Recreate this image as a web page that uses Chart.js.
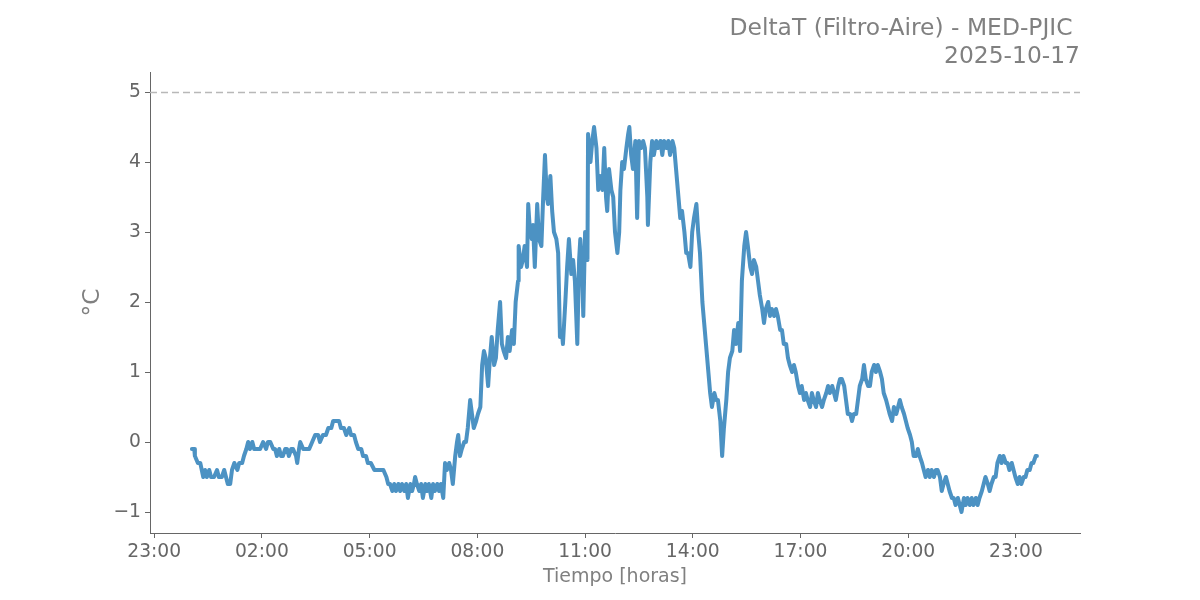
<!DOCTYPE html>
<html><head><meta charset="utf-8">
<script src="https://cdn.jsdelivr.net/npm/chart.js@4.4.1/dist/chart.umd.min.js"></script>
<style>html,body{margin:0;padding:0;background:#fff}#wrap{width:1200px;height:600px}</style>
</head><body><div id="wrap"><canvas id="c" width="1200" height="600"></canvas></div>
<script>
const chartTitle = ["DeltaT (Filtro-Aire) - MED-PJIC ", "2025-10-17"];
const xAxisTitle = "Tiempo [horas]";
const yAxisTitle = "°C";
const threshold = 5;
const xTickHours = [-1, 2, 5, 8, 11, 14, 17, 20, 23];
const yTickValues = [-1, 0, 1, 2, 3, 4, 5];

const times = [
"00:03","00:07","00:08","00:13","00:17","00:22","00:25","00:28","00:32","00:35","00:40","00:45","00:48","00:53","00:57",
"01:00","01:03","01:07","01:10","01:14","01:19","01:22","01:27","01:30","01:34","01:37","01:40","01:44","01:47","01:52","01:57",
"02:02","02:07","02:10","02:14","02:19","02:22","02:25","02:29","02:32","02:35","02:39","02:42","02:45","02:49","02:52","02:57","02:59",
"03:02","03:04","03:09","03:14","03:19","03:24","03:29","03:34","03:37","03:42","03:47","03:51","03:56","03:59",
"04:04","04:09","04:12","04:17","04:21","04:26","04:29","04:34","04:37","04:41","04:46","04:49","04:54","04:57",
"05:02","05:08","05:13","05:18","05:23","05:28","05:31","05:34","05:38","05:41","05:44","05:48","05:51","05:54","05:58",
"06:01","06:04","06:08","06:11","06:14","06:16","06:19","06:23","06:26","06:29","06:33","06:36","06:39","06:43","06:46","06:49","06:53","06:56","06:59",
"07:03","07:06","07:09","07:13","07:16","07:19","07:23","07:26","07:28","07:31","07:34","07:38","07:41","07:44","07:48","07:51","07:54","07:58",
"08:01","08:05","08:08","08:11","08:14","08:18","08:21","08:24","08:28","08:31","08:34","08:38","08:41","08:44","08:48","08:51","08:54","08:58",
"09:01","09:04","09:08","09:09","09:13","09:16","09:19","09:23","09:25","09:28","09:31","09:33","09:36","09:40","09:43","09:47","09:50","09:53","09:56","09:58",
"10:02","10:05","10:08","10:12","10:15","10:18","10:22","10:23","10:27","10:30","10:33","10:37","10:40","10:43","10:47","10:50","10:52","10:55","10:57",
"11:00","11:04","11:05","11:09","11:12","11:15","11:19","11:22","11:25","11:29","11:32","11:35","11:37","11:40","11:44","11:47","11:50","11:54","11:57","11:59",
"12:02","12:05","12:09","12:12","12:14","12:17","12:20","12:24","12:27","12:30","12:34","12:37","12:40","12:44","12:45","12:49","12:52","12:55","12:59",
"13:02","13:06","13:09","13:12","13:16","13:19","13:22","13:26","13:29","13:32","13:36","13:39","13:42","13:46","13:49","13:52","13:56","13:59",
"14:02","14:06","14:09","14:12","14:16","14:19","14:22","14:26","14:29","14:32","14:36","14:39","14:42","14:46","14:49","14:52","14:56","14:59",
"15:02","15:06","15:09","15:12","15:16","15:19","15:22","15:26","15:29","15:32","15:36","15:39","15:42","15:46","15:49","15:52","15:56","15:59",
"16:02","16:06","16:09","16:12","16:16","16:19","16:22","16:26","16:29","16:32","16:36","16:39","16:42","16:46","16:49","16:52","16:56","16:59",
"17:02","17:06","17:09","17:12","17:16","17:19","17:22","17:26","17:29","17:32","17:36","17:39","17:43","17:46","17:49","17:53","17:56","17:59",
"18:03","18:06","18:09","18:13","18:16","18:19","18:23","18:26","18:29","18:33","18:36","18:39","18:43","18:46","18:49","18:53","18:56","18:59",
"19:03","19:06","19:09","19:13","19:16","19:19","19:23","19:26","19:29","19:33","19:36","19:40","19:43","19:46","19:49","19:53","19:56","19:59",
"20:03","20:06","20:09","20:13","20:16","20:19","20:23","20:26","20:29","20:33","20:36","20:39","20:43","20:46","20:49","20:53","20:56","20:59",
"21:03","21:06","21:09","21:13","21:16","21:19","21:23","21:26","21:29","21:33","21:36","21:39","21:43","21:46","21:49","21:53","21:56","21:59",
"22:03","22:06","22:09","22:13","22:16","22:19","22:23","22:26","22:29","22:33","22:36","22:39","22:43","22:46","22:49","22:53","22:56","22:59",
"23:03","23:06","23:09","23:13","23:16","23:19","23:23","23:26","23:29","23:33","23:35"
];

const deltaT = [
-0.1,-0.1,-0.2,-0.3,-0.3,-0.5,-0.4,-0.5,-0.4,-0.5,-0.5,-0.4,-0.5,-0.5,-0.4,
-0.5,-0.6,-0.6,-0.4,-0.3,-0.4,-0.3,-0.3,-0.2,-0.1,0,-0.1,0,-0.1,-0.1,-0.1,
0,-0.1,0,0,-0.1,-0.1,-0.2,-0.1,-0.2,-0.2,-0.1,-0.1,-0.2,-0.1,-0.1,-0.2,-0.3,
-0.1,0,-0.1,-0.1,-0.1,0,0.1,0.1,0,0.1,0.1,0.2,0.2,0.3,
0.3,0.3,0.2,0.2,0.1,0.2,0.1,0.1,0,-0.1,-0.1,-0.2,-0.2,-0.3,
-0.3,-0.4,-0.4,-0.4,-0.4,-0.5,-0.6,-0.6,-0.7,-0.6,-0.7,-0.6,-0.7,-0.6,-0.7,
-0.6,-0.8,-0.6,-0.7,-0.6,-0.5,-0.6,-0.7,-0.6,-0.8,-0.6,-0.7,-0.6,-0.8,-0.6,-0.7,-0.6,-0.7,-0.6,
-0.8,-0.3,-0.4,-0.3,-0.4,-0.6,-0.2,0,0.1,-0.2,-0.1,0,0,0.2,0.6,0.4,0.2,0.3,
0.4,0.5,1.1,1.3,1.2,0.8,1.2,1.5,1.1,1.2,1.6,2.0,1.4,1.3,1.2,1.5,1.3,1.6,
1.4,2.0,2.3,2.8,2.5,2.6,2.8,2.5,3.4,3.0,2.9,3.1,2.5,3.4,2.9,2.8,3.5,4.1,3.5,3.4,
3.8,3.3,3.0,2.9,2.7,1.5,1.5,1.4,2.0,2.5,2.9,2.4,2.6,2.3,1.4,2.6,2.9,2.5,1.8,
3.0,2.6,4.4,4.0,4.3,4.5,4.2,3.6,3.8,3.6,4.2,3.5,3.3,3.9,3.6,3.5,3.0,2.7,3.0,3.6,
4.0,3.9,4.2,4.4,4.5,4.1,3.9,4.3,3.2,4.3,4.2,4.3,4.2,3.5,3.1,4.0,4.3,4.1,4.3,
4.2,4.3,4.1,4.3,4.2,4.3,4.1,4.3,4.2,3.9,3.5,3.2,3.3,3.0,2.7,2.7,2.5,3.0,
3.2,3.4,3.0,2.7,2.0,1.7,1.4,1.0,0.7,0.5,0.7,0.6,0.6,0.3,-0.2,0.2,0.6,1.0,
1.2,1.3,1.6,1.4,1.7,1.3,2.3,2.8,3.0,2.8,2.5,2.4,2.6,2.5,2.3,2.1,1.9,1.7,
1.9,2.0,1.8,1.9,1.8,1.9,1.8,1.6,1.6,1.4,1.4,1.2,1.1,1.0,1.1,1.0,0.8,0.7,
0.8,0.6,0.7,0.6,0.5,0.7,0.6,0.5,0.7,0.6,0.5,0.6,0.7,0.8,0.7,0.8,0.7,0.6,
0.8,0.9,0.9,0.8,0.6,0.4,0.4,0.3,0.4,0.4,0.6,0.8,0.9,1.1,0.9,0.8,0.8,1.0,
1.1,1.0,1.1,1.0,0.9,0.7,0.6,0.5,0.4,0.3,0.5,0.4,0.5,0.6,0.5,0.4,0.3,0.2,
0.1,0,-0.2,-0.2,-0.1,-0.2,-0.3,-0.4,-0.5,-0.4,-0.5,-0.4,-0.5,-0.4,-0.4,-0.5,-0.7,-0.6,
-0.5,-0.6,-0.7,-0.8,-0.8,-0.9,-0.8,-0.9,-1.0,-0.8,-0.9,-0.8,-0.9,-0.8,-0.9,-0.8,-0.9,-0.8,
-0.7,-0.6,-0.5,-0.6,-0.7,-0.6,-0.5,-0.5,-0.3,-0.2,-0.3,-0.2,-0.3,-0.3,-0.4,-0.3,-0.4,-0.5,
-0.6,-0.5,-0.6,-0.5,-0.5,-0.4,-0.4,-0.3,-0.3,-0.2,-0.2
];

const xRangeMinutes = [-67, 1487];
const yRange = [-1.3, 5.286];

function toMinutes(t) { const p = t.split(":"); return (+p[0]) * 60 + (+p[1]); }
const points = times.map((t, i) => ({ x: toMinutes(t), y: deltaT[i] }));
if (times.length !== deltaT.length) console.error("length mismatch", times.length, deltaT.length);

const FONT = '"DejaVu Sans", sans-serif';

const refLine = {
  id: 'refLine',
  beforeDatasetsDraw(chart) {
    const { ctx, chartArea: a, scales: { y } } = chart;
    const py = Math.round(y.getPixelForValue(threshold)) + 0.5;
    ctx.save();
    ctx.strokeStyle = '#b8b8b8';
    ctx.lineWidth = 1.6;
    ctx.setLineDash([7, 4]);
    ctx.beginPath();
    ctx.moveTo(a.left, py);
    ctx.lineTo(a.right, py);
    ctx.stroke();
    ctx.restore();
  }
};

const titleRight = {
  id: 'titleRight',
  afterDraw(chart) {
    const { ctx, chartArea: a } = chart;
    ctx.save();
    ctx.font = '23.4px ' + FONT;
    ctx.fillStyle = '#808080';
    ctx.textAlign = 'right';
    ctx.textBaseline = 'middle';
    ctx.fillText(chartTitle[0], a.right, 29);
    ctx.fillText(chartTitle[1], a.right, 57);
    ctx.restore();
  }
};

new Chart(document.getElementById('c'), {
  type: 'line',
  data: {
    datasets: [{
      data: points,
      borderColor: 'rgba(31,119,180,0.8)',
      borderWidth: 4,
      pointRadius: 0,
      tension: 0,
      fill: false,
      borderJoinStyle: 'round',
      borderCapStyle: 'round'
    }]
  },
  options: {
    responsive: false,
    animation: false,
    layout: { padding: { top: 72, right: 120, bottom: 0, left: 0 } },
    plugins: { legend: { display: false }, tooltip: { enabled: false }, title: { display: false } },
    scales: {
      x: {
        type: 'linear',
        min: xRangeMinutes[0],
        max: xRangeMinutes[1],
        afterBuildTicks(s) { s.ticks = xTickHours.map(h => ({ value: h * 60 })); },
        afterFit(s) { s.height = 67; },
        grid: { display: true, drawOnChartArea: false, drawTicks: true, tickLength: 5, color: '#666', tickWidth: 1 },
        border: { display: true, color: '#666', width: 1 },
        ticks: {
          color: '#666', font: { family: FONT, size: 18.7 }, padding: 3, maxRotation: 0, autoSkip: false,
          callback: (v) => { const h = ((Math.round(v / 60)) % 24 + 24) % 24; return String(h).padStart(2, '0') + ':00'; }
        },
        title: { display: true, text: xAxisTitle, color: '#808080', font: { family: FONT, size: 19 }, padding: { top: 0, bottom: 12 } }
      },
      y: {
        type: 'linear',
        min: yRange[0],
        max: yRange[1],
        afterBuildTicks(s) { s.ticks = yTickValues.map(v => ({ value: v })); },
        afterFit(s) { s.width = 150; },
        grid: { display: true, drawOnChartArea: false, drawTicks: true, tickLength: 5, color: '#666', tickWidth: 1 },
        border: { display: true, color: '#666', width: 1 },
        ticks: {
          color: '#666', font: { family: FONT, size: 18.7 }, padding: 4, autoSkip: false,
          callback: (v) => v < 0 ? '\u2212' + Math.abs(v) : String(v)
        },
        title: { display: true, text: yAxisTitle, color: '#808080', font: { family: FONT, size: 23.4 }, padding: { top: 79, bottom: 0 } }
      }
    }
  },
  plugins: [refLine, titleRight]
});
</script>
</body></html>
